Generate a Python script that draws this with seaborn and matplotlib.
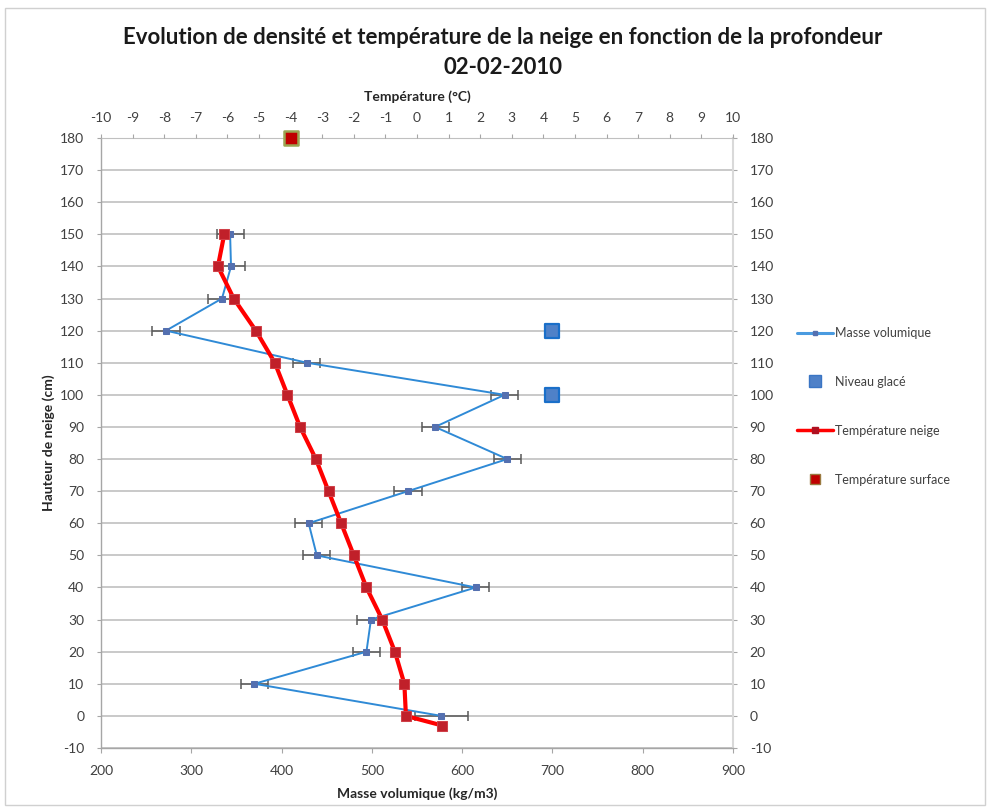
import matplotlib
matplotlib.use("Agg")
import matplotlib.pyplot as plt
from matplotlib.lines import Line2D
from matplotlib.patches import Rectangle
import seaborn as sns

# Profil de densité (axe du bas)
hauteur = [150, 140, 130, 120, 110, 100, 90, 80, 70, 60, 50, 40, 30, 20, 10, 0]
masse_volumique = [343, 344, 334, 272, 428, 647, 570, 650, 540, 430, 439, 615, 499, 494, 370, 577]
erreur_masse = [15, 15, 15, 15, 15, 15, 15, 15, 15, 15, 15, 15, 15, 15, 15, 29]

# Niveaux glacés (axe du bas)
glace_hauteur = [120, 100]
glace_masse = [700, 700]

# Profil de température (axe du haut)
hauteur_temp = [150, 140, 130, 120, 110, 100, 90, 80, 70, 60, 50, 40, 30, 20, 10, 0, -3]
temperature_neige = [-6.1, -6.3, -5.8, -5.1, -4.5, -4.1, -3.7, -3.2, -2.8, -2.4, -2.0,
                     -1.6, -1.1, -0.7, -0.4, -0.35, 0.8]

# Température de surface
surface_hauteur = [180]
surface_temperature = [-4.0]

sns.set_style("white")
plt.rcParams["font.family"] = ["Lato", "DejaVu Sans"]
plt.rcParams["axes.unicode_minus"] = False

W, H = 989, 809
fig = plt.figure(figsize=(W / 100, H / 100), dpi=100)
ax = fig.add_axes([101 / W, 1 - 748 / H, (733 - 101) / W, (748 - 138) / H])
ax2 = ax.twiny()

txt = "#404040"
grid_c = "#c0c0c0"
spine_c = "#a6a6a6"

# Masse volumique avec barres d'erreur
ax.errorbar(masse_volumique, hauteur, xerr=erreur_masse, fmt="none",
            ecolor="#595959", elinewidth=1.1, capsize=3.5, capthick=1.1, zorder=2)
sns.lineplot(x=masse_volumique, y=hauteur, sort=False, estimator=None, ax=ax,
             color="#2f8ad6", linewidth=1.4, marker="s", markersize=4,
             markerfacecolor="#5470b0", markeredgecolor="#5470b0", zorder=3)

# Niveaux glacés
sns.scatterplot(x=glace_masse, y=glace_hauteur, ax=ax, marker="s", s=100,
                color="#4f81c8", edgecolor="#1a6fc9", linewidth=1.6, zorder=4)

# Température de la neige et de surface
sns.lineplot(x=temperature_neige, y=hauteur_temp, sort=False, estimator=None, ax=ax2,
             color="#ff0000", linewidth=3, marker="s", markersize=6.5,
             markerfacecolor="#c0202a", markeredgecolor="#d04048", zorder=5)
sns.scatterplot(x=surface_temperature, y=surface_hauteur, ax=ax2, marker="s", s=100,
                color="#c00000", edgecolor="#9aa552", linewidth=1.8, zorder=6,
                clip_on=False)

ax.set_xlim(200, 900)
ax.set_ylim(-10, 180)
ax2.set_xlim(-10, 10)

ax.set_xticks(range(200, 901, 100))
ax.set_yticks(range(-10, 181, 10))
ax2.set_xticks(range(-10, 11, 1))

ax.yaxis.grid(True, color=grid_c, linewidth=1.2)
ax.xaxis.grid(False)
ax.set_axisbelow(True)

ax.tick_params(axis="x", which="both", bottom=True, top=False, direction="out",
               length=3.5, width=0.8, color=spine_c, labelsize=10, labelcolor=txt, pad=9)
ax.tick_params(axis="y", which="both", left=True, right=True, labelleft=True,
               labelright=True, direction="out", length=3, width=0.8, color=spine_c,
               labelsize=10, labelcolor=txt, pad=9)
ax2.tick_params(axis="x", top=True, bottom=False, direction="out", length=3,
                width=0.8, color=spine_c, labelsize=10, labelcolor=txt, pad=7)

for side in ["left", "bottom"]:
    ax.spines[side].set_color(spine_c)
    ax.spines[side].set_linewidth(1)
ax.spines["top"].set_color(grid_c)
ax.spines["right"].set_color("#d9d9d9")
ax.spines["right"].set_linewidth(1.5)
for s in ax2.spines.values():
    s.set_visible(False)

ax.set_xlabel("Masse volumique (kg/m3)", fontsize=10, fontweight="bold", color="#262626",
              labelpad=7)
ax.set_ylabel("Hauteur de neige (cm)", fontsize=10, fontweight="bold", color="#262626",
              labelpad=4)
ax2.set_xlabel("Température (°C)", fontsize=10, fontweight="bold", color="#262626",
               labelpad=8)

fig.text(503 / W, 1 - 38 / H,
         "Evolution de densité et température de la neige en fonction de la profondeur",
         ha="center", va="center", fontsize=16, fontweight="bold", color="#1a1a1a")
fig.text(503 / W, 1 - 67 / H, "02-02-2010", ha="center", va="center",
         fontsize=16, fontweight="bold", color="#1a1a1a")

handles = [
    Line2D([], [], color="#4a9be0", linewidth=2.2, marker="s", markersize=3,
           markerfacecolor="#5470b0", markeredgecolor="#5470b0"),
    Line2D([], [], linestyle="none", marker="s", markersize=8,
           markerfacecolor="#4f81c8", markeredgecolor="#3a75c4"),
    Line2D([], [], color="#ff0000", linewidth=2.5, marker="s", markersize=4,
           markerfacecolor="#b01020", markeredgecolor="#b01020"),
    Line2D([], [], linestyle="none", marker="s", markersize=7,
           markerfacecolor="#c00000", markeredgecolor="#9a7a40"),
]
labels = ["Masse volumique", "Niveau glacé", "Température neige", "Température surface"]
fig.legend(handles, labels, loc="upper left", bbox_to_anchor=(797 / W, 1 - 327 / H),
           frameon=False, fontsize=9, labelcolor=txt, handlelength=2.9,
           handletextpad=0.15, labelspacing=2.95, borderpad=0, borderaxespad=0)

fig.add_artist(Rectangle((5 / W, 4 / H), 980 / W, (805 - 8) / H, transform=fig.transFigure,
                         fill=False, edgecolor="#d0d0d0", linewidth=1))

fig.savefig("out.png", dpi=100)
